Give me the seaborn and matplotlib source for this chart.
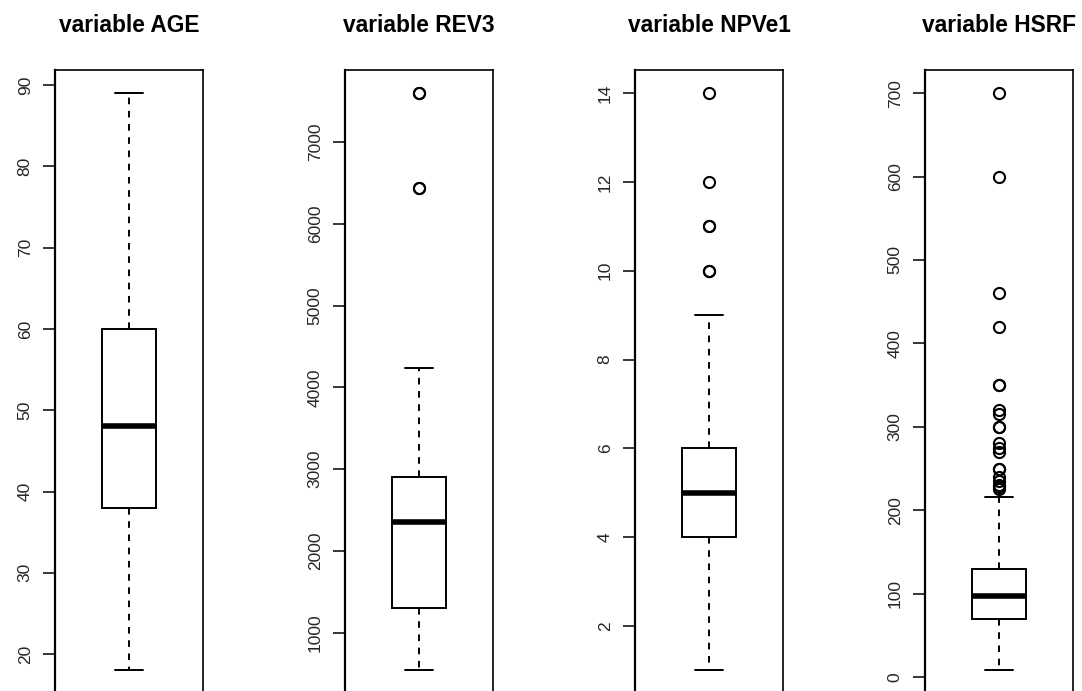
import matplotlib
matplotlib.use("Agg")
import matplotlib.pyplot as plt
import numpy as np
import seaborn as sns

# ---------------- data ----------------
titles = ["variable AGE", "variable REV3", "variable NPVe1", "variable HSRF"]

age_values = [18, 38, 48, 60, 89]

rev3_values = [540, 800, 1000, 1100, 1200, 1300, 1500, 1800, 2000, 2200,
               2350, 2500, 2600, 2700, 2800, 2900, 4240, 6440, 6440, 7600,
               7600]

npve1_values = [1, 2, 3, 3, 4, 4, 4, 4, 4, 5, 5, 5, 5, 5, 5, 5, 5, 6, 6,
                6, 6, 6, 9, 10, 10, 11, 11, 12, 14]

hsrf_values = [8, 20, 30, 35, 40, 45, 48, 50, 50, 55, 56, 60, 60, 60, 62,
               64, 65, 66, 68, 70, 70, 70,
               72, 75, 75, 78, 80, 80, 80, 82, 85, 85, 88, 90, 90, 90, 92,
               94, 95, 96, 97, 97,
               97,
               98, 100, 100, 100, 102, 105, 105, 108, 110, 110, 112, 115,
               118, 120, 120, 120, 125, 125, 128, 130,
               130,
               216, 225, 228, 230, 235, 240, 250, 250, 270, 275, 280, 300,
               300, 315, 320, 350, 350, 420, 460, 600, 700]

ytick_sets = [
    [20, 30, 40, 50, 60, 70, 80, 90],
    [1000, 2000, 3000, 4000, 5000, 6000, 7000],
    [2, 4, 6, 8, 10, 12, 14],
    [0, 100, 200, 300, 400, 500, 600, 700],
]

datasets = [age_values, rev3_values, npve1_values, hsrf_values]

# ---------------- style ----------------
sns.set_style("white")
plt.rcParams["font.family"] = ["Liberation Sans", "DejaVu Sans"]

W, H = 1082, 691
fig = plt.figure(figsize=(W / 100, H / 100), dpi=100)
fig.patch.set_facecolor("white")

lefts_px = [55, 345, 635, 925]
panel_w = 148
top_px = 70
bottom_px = 693.5

for vals, title, ticks, lpx in zip(datasets, titles, ytick_sets, lefts_px):
    ax = fig.add_axes([lpx / W, (H - bottom_px) / H, panel_w / W,
                       (bottom_px - top_px) / H])
    sns.boxplot(
        y=vals, ax=ax, width=0.38, color="white", linecolor="black",
        linewidth=1.4, saturation=1, whis=1.5,
        medianprops=dict(color="black", linewidth=4.0),
        whiskerprops=dict(color="black", linewidth=1.4, linestyle=(0, (3.4, 3.4))),
        capprops=dict(color="black", linewidth=1.4),
        boxprops=dict(facecolor="white", edgecolor="black", linewidth=1.4),
        flierprops=dict(marker="o", markerfacecolor="none",
                        markeredgecolor="black", markersize=8,
                        markeredgewidth=1.5),
    )
    vmin, vmax = min(vals), max(vals)
    rng = vmax - vmin
    ax.set_ylim(vmin - 0.04 * rng, vmax + 0.04 * rng)
    ax.set_xlim(-0.52, 0.52)
    ax.set_xticks([])
    ax.set_xlabel("")
    ax.set_ylabel("")
    ax.set_yticks(ticks)
    ax.set_yticklabels([str(t) for t in ticks])
    ax.tick_params(axis="y", direction="out", length=8.6, width=1.1,
                   color="black", labelsize=12.5, pad=7.5, labelrotation=90,
                   left=True)
    for lbl in ax.get_yticklabels():
        lbl.set_va("center")
        lbl.set_ha("right")
    for side, sp in ax.spines.items():
        sp.set_visible(True)
        sp.set_color("black")
        sp.set_linewidth(1.2)
    ax.spines["left"].set_linewidth(1.6)
    ax.set_facecolor("white")
    ax.set_title(title, fontsize=16.4, fontweight="bold", pad=27.4,
                 color="black")

fig.savefig("out.png", dpi=100, facecolor="white")
